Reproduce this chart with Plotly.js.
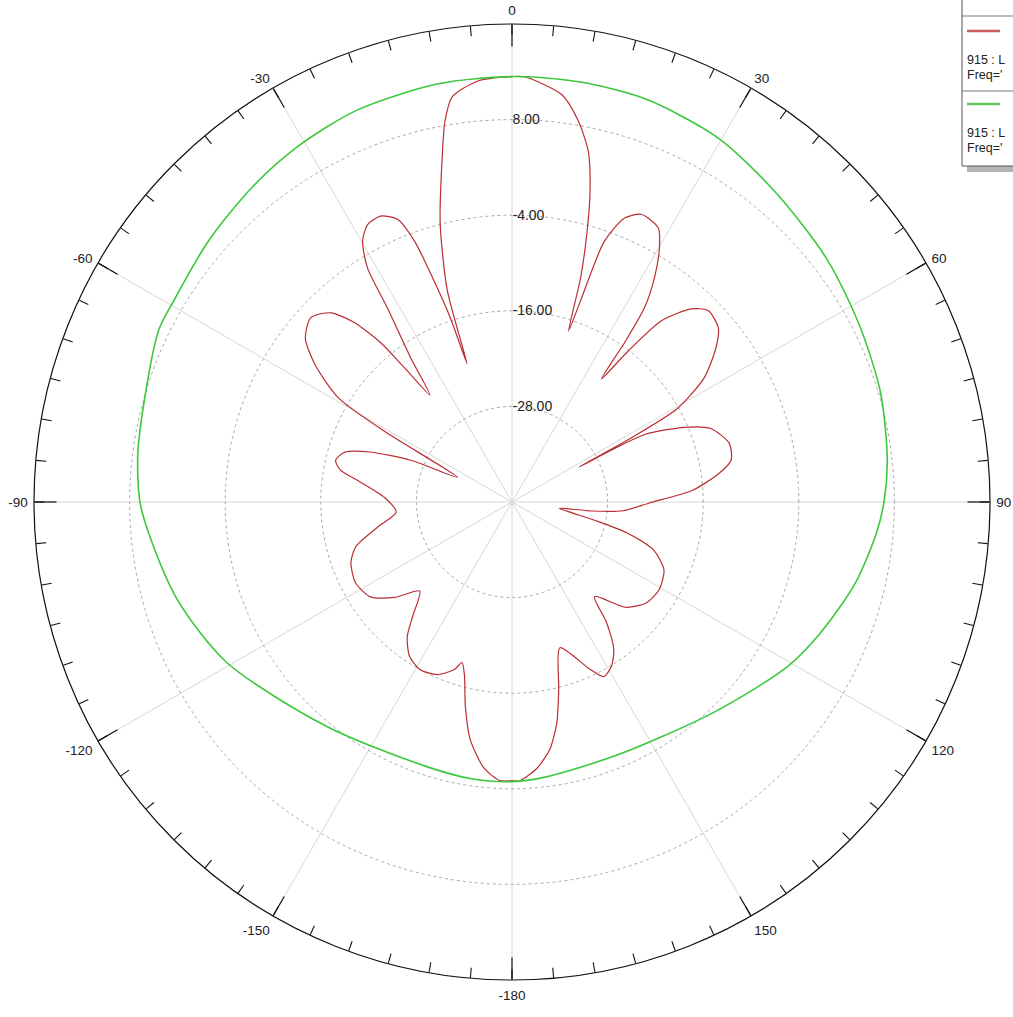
<!DOCTYPE html>
<html>
<head>
<meta charset="utf-8">
<script src="https://cdn.plot.ly/plotly-3.0.1.min.js"></script>
<style>html,body{margin:0;padding:0;background:#fff;overflow:hidden}#chart{width:1013px;height:1017px}</style>
</head>
<body>
<div id="chart"></div>
<script>
// ---- data ----
const redTheta = [0,1.7,7.0,9.9,12.3,14.2,15.6,17.0,18.3,18.8,19.5,21.6,24.2,28.1,30.1,32.4,34.3,35.2,36.0,37.6,39.5,42.9,45.7,49.8,52.9,57.1,60.5,61.8,62.4,63.0,66.6,69.7,74.9,79.2,82.1,86.2,90.4,94.5,96.5,97.5,102.4,105,108.7,114.1,120.7,126.8,132.7,138.9,141.9,145.4,148.8,152.3,155.1,161.8,166,168.5,171.3,174.7,178.4,180,182.5,186,190,192.9,195.3,197.3,199,203.4,208.7,213.6,217.9,221,226,230.9,236.2,242.7,249.4,254,259.5,265,272,278,280.5,283.3,286.6,289.4,292.4,294.4,298.9,301,305,308.4,312.5,316.2,318.7,320.5,321.3,322.5,324.9,327.3,328.3,330.2,332.5,335.3,338,339.5,340.5,341.5,342,343,345.5,348.5,350,351.6,355.3,360];
const redDb = [13.4,13.4,11.5,8.5,5.0,-0.1,-5.1,-10.5,-17.4,-13.4,-5.3,-1.7,-0.4,-1.0,-3.1,-6.6,-10.5,-15.3,-20.9,-16.0,-10.5,-6.9,-5.6,-6.1,-7.9,-11.25,-16.1,-23.6,-30.5,-21.4,-16.4,-13.4,-11.75,-12.0,-13.75,-17.2,-22.75,-26,-30,-34,-29.5,-25.1,-21.25,-19.1,-18.5,-18.9,-20.5,-24.25,-20.75,-17.5,-15.9,-15.25,-16.9,-20.75,-15.75,-11.75,-8.6,-6.4,-5.0,-5.0,-5.0,-6.4,-9.75,-13.75,-17.4,-18.9,-17.75,-16.4,-16.0,-16.75,-18.6,-21.0,-23.9,-21.0,-18.6,-17.9,-18.4,-19.6,-22.9,-25.4,-24.0,-20.4,-18.1,-17.25,-18.1,-21.1,-26.25,-32.5,-22.1,-14.5,-9.75,-6.9,-5.75,-7.1,-10,-14.1,-18.4,-23.1,-17.9,-11,-5.5,-2.25,-0.75,-0.5,-1.75,-5,-10.1,-15.6,-21.75,-12.25,-4,4.0,8.5,11.4,13.0,13.4];

const greenTheta = [0,9,18.2,29.6,40.8,52.6,63.4,73.6,83.6,90,94.9,103.2,112.8,120.8,136.1,157.3,173.4,180,188.6,197.7,219.3,240.7,253.7,265,270,278,295.8,300.7,310.7,320.6,328.9,338.5,350,360];
const greenDb = [13.4,13.4,13.3,12.5,11.0,9.9,8.9,8.25,7.4,6.7,5.9,4.3,2.1,0.3,-3.4,-5.6,-5.2,-4.9,-4.9,-5.1,-3.5,1.1,3.75,5.75,6.7,7.4,9.3,9.4,10.25,11.25,12.1,12.9,13.3,13.4];

const radialTicks = [-28,-16,-4,8];
const radialLabels = ['-28.00','-16.00','-4.00','8.00'];
const angTicks = [0,30,60,90,120,150,180,210,240,270,300,330];
const angLabels = ['0','30','60','90','120','150','-180','-150','-120','-90','-60','-30'];
const legendLines = ['915 : L', "Freq='"];

// ---- layout helpers ----
const M = {l:34, r:23, t:24, b:37};
const PW = 1013 - M.l - M.r, PH = 1017 - M.t - M.b;
const X = px => (px - M.l) / PW;
const Y = py => 1 - (py - M.t) / PH;

const minorTicks = [];
for (let a = 0; a < 360; a += 5) minorTicks.push(a);

const font = 'Liberation Sans, Arial, sans-serif';

const traces = [
  {type:'scatterpolar', subplot:'polar', r: redDb, theta: redTheta, mode:'lines',
   line:{color:'#bb2d33', width:1.2, shape:'spline', smoothing:0.7}, showlegend:false, hoverinfo:'skip'},
  {type:'scatterpolar', subplot:'polar', r: greenDb, theta: greenTheta, mode:'lines',
   line:{color:'#3cc83c', width:1.6, shape:'spline', smoothing:0.8}, showlegend:false, hoverinfo:'skip'},
  {type:'scatterpolar', subplot:'polar2', r:[-40], theta:[0], mode:'markers',
   marker:{opacity:0}, showlegend:false, hoverinfo:'skip'},
  {type:'scatterpolar', subplot:'polar3', r:[-40], theta:[0], mode:'markers',
   marker:{opacity:0}, showlegend:false, hoverinfo:'skip'}
];

const shapes = [
  {type:'rect', xref:'paper', yref:'paper', x0:X(967), x1:X(1040), y0:Y(172), y1:Y(-5),
   fillcolor:'#b4b4b4', line:{width:0}},
  {type:'rect', xref:'paper', yref:'paper', x0:X(962), x1:X(1040), y0:Y(166), y1:Y(-5),
   fillcolor:'#ffffff', line:{color:'#555', width:1}},
  {type:'line', xref:'paper', yref:'paper', x0:X(962), x1:X(1040), y0:Y(16), y1:Y(16),
   line:{color:'#777', width:1}},
  {type:'line', xref:'paper', yref:'paper', x0:X(962), x1:X(1040), y0:Y(91), y1:Y(91),
   line:{color:'#777', width:1}},
  {type:'line', xref:'paper', yref:'paper', x0:X(967), x1:X(1000), y0:Y(31), y1:Y(31),
   line:{color:'#c85a5a', width:2.5}},
  {type:'line', xref:'paper', yref:'paper', x0:X(967), x1:X(1000), y0:Y(104), y1:Y(104),
   line:{color:'#5cc85c', width:2.5}}
];

const annY = [60, 75, 133, 148];
const annotations = annY.map((py, i) => ({
  xref:'paper', yref:'paper', x:X(965), y:Y(py), xanchor:'left', yanchor:'middle',
  text: legendLines[i % 2], showarrow:false, font:{family:font, size:12.5, color:'#222'}
}));

const dom = {x:[0,1], y:[0,1]};
const layout = {
  width:1013, height:1017, margin:M, paper_bgcolor:'#fff', showlegend:false,
  font:{family:font, color:'#222'},
  polar:{
    domain:dom, bgcolor:'#fff',
    angularaxis:{rotation:90, direction:'clockwise', tickmode:'array', tickvals:angTicks, ticktext:angLabels,
      ticks:'outside', ticklen:3, tickcolor:'rgba(0,0,0,0)',
      showline:true, linecolor:'#111', linewidth:1.2,
      showgrid:true, gridcolor:'#d6d6d6', gridwidth:1,
      tickfont:{family:font, size:13.5, color:'#222'}},
    radialaxis:{range:[-40,20], angle:90, tickangle:90, tickmode:'array', tickvals:radialTicks, ticktext:radialLabels,
      showline:false, ticks:'', showgrid:true, gridcolor:'#a8a8a8', griddash:'dot', gridwidth:1,
      tickfont:{family:font, size:14, color:'#222'}}
  },
  polar2:{
    domain:dom, bgcolor:'rgba(0,0,0,0)',
    angularaxis:{rotation:90, direction:'clockwise', tickmode:'array', tickvals:minorTicks,
      ticks:'inside', ticklen:10, tickcolor:'#111', tickwidth:1.1, showticklabels:false,
      showline:false, showgrid:false},
    radialaxis:{visible:false, range:[-40,20]}
  },
  polar3:{
    domain:dom, bgcolor:'rgba(0,0,0,0)',
    angularaxis:{rotation:90, direction:'clockwise', tickmode:'array', tickvals:angTicks,
      ticks:'inside', ticklen:22, tickcolor:'#111', tickwidth:1.2, showticklabels:false,
      showline:false, showgrid:false},
    radialaxis:{visible:false, range:[-40,20]}
  },
  shapes, annotations
};

Plotly.newPlot('chart', traces, layout, {staticPlot:true, displayModeBar:false});
</script>
</body>
</html>
